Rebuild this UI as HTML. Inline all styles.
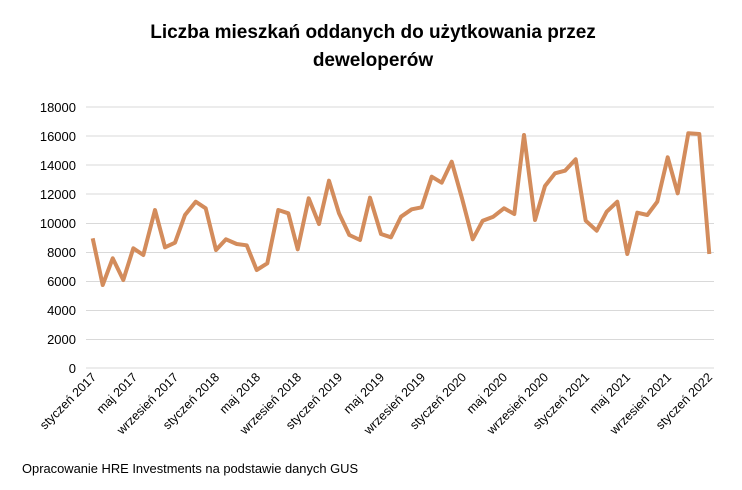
<!DOCTYPE html>
<html><head><meta charset="utf-8"><style>
body{margin:0;background:#fff;}
svg{display:block;font-family:"Liberation Sans",Calibri,sans-serif;}
</style></head><body>
<svg width="742" height="490" xmlns="http://www.w3.org/2000/svg">
<text x="373" y="38" text-anchor="middle" font-size="19" font-weight="bold" fill="#000">Liczba mieszkań oddanych do użytkowania przez</text>
<text x="373" y="66" text-anchor="middle" font-size="19" font-weight="bold" fill="#000">deweloperów</text>
<g stroke="#d9d9d9" stroke-width="1">
<line x1="86" x2="714" y1="107" y2="107"/><line x1="86" x2="714" y1="136" y2="136"/><line x1="86" x2="714" y1="165" y2="165"/><line x1="86" x2="714" y1="194" y2="194"/><line x1="86" x2="714" y1="223.5" y2="223.5"/><line x1="86" x2="714" y1="252.5" y2="252.5"/><line x1="86" x2="714" y1="281.5" y2="281.5"/><line x1="86" x2="714" y1="310.5" y2="310.5"/><line x1="86" x2="714" y1="339.5" y2="339.5"/><line x1="86" x2="714" y1="368" y2="368"/>
</g>
<g font-size="13" fill="#000" text-anchor="end">
<text x="76" y="112">18000</text><text x="76" y="141">16000</text><text x="76" y="170">14000</text><text x="76" y="199">12000</text><text x="76" y="228">10000</text><text x="76" y="257">8000</text><text x="76" y="286">6000</text><text x="76" y="315">4000</text><text x="76" y="344">2000</text><text x="76" y="373">0</text>
</g>
<polyline fill="none" stroke="#d38c5c" stroke-width="4" stroke-linejoin="round" points="92.7,238.3 102.7,285 112.7,258.3 123.3,280 133.3,248.3 143.3,255 155,210 165,247.3 175,242.7 185,215 195.7,201.7 205.7,208.3 216,250 226,239.3 236.7,244 246.7,245.3 256.7,270 267.3,263.3 278.3,210 288.3,213.3 297.7,249.3 308.7,198.3 319,224 329,180.7 339,213.3 349.3,235 360,240 370,197.7 381,234 391,237.3 401,216.7 411.7,209.3 421.7,207.3 431.7,176.7 441.7,182.7 451.7,161.7 462,198.3 472.7,239.3 482.7,220.7 493.3,216.7 504,208.3 514.3,214 524,135 535,220 545,186 555,173.3 565,170.7 575.7,159.3 585.7,220.7 596.7,230.7 606.7,211.7 617.3,201.7 627.3,254 637.3,212.7 647.3,215 657.3,201.7 667.7,157.3 677.7,193.3 688.3,133.3 699.3,134 709.3,254"/>
<g font-size="12.5" fill="#000" text-anchor="end">
<text transform="translate(97,378) rotate(-45)">styczeń 2017</text>
<text transform="translate(138,378) rotate(-45)">maj 2017</text>
<text transform="translate(179,378) rotate(-45)">wrzesień 2017</text>
<text transform="translate(220,378) rotate(-45)">styczeń 2018</text>
<text transform="translate(261,378) rotate(-45)">maj 2018</text>
<text transform="translate(302,378) rotate(-45)">wrzesień 2018</text>
<text transform="translate(343,378) rotate(-45)">styczeń 2019</text>
<text transform="translate(385,378) rotate(-45)">maj 2019</text>
<text transform="translate(426,378) rotate(-45)">wrzesień 2019</text>
<text transform="translate(467,378) rotate(-45)">styczeń 2020</text>
<text transform="translate(508,378) rotate(-45)">maj 2020</text>
<text transform="translate(549,378) rotate(-45)">wrzesień 2020</text>
<text transform="translate(590,378) rotate(-45)">styczeń 2021</text>
<text transform="translate(631,378) rotate(-45)">maj 2021</text>
<text transform="translate(672,378) rotate(-45)">wrzesień 2021</text>
<text transform="translate(713,378) rotate(-45)">styczeń 2022</text>
</g>
<text x="22" y="473" font-size="12.9" fill="#000">Opracowanie HRE Investments na podstawie danych GUS</text>
</svg>
</body></html>
